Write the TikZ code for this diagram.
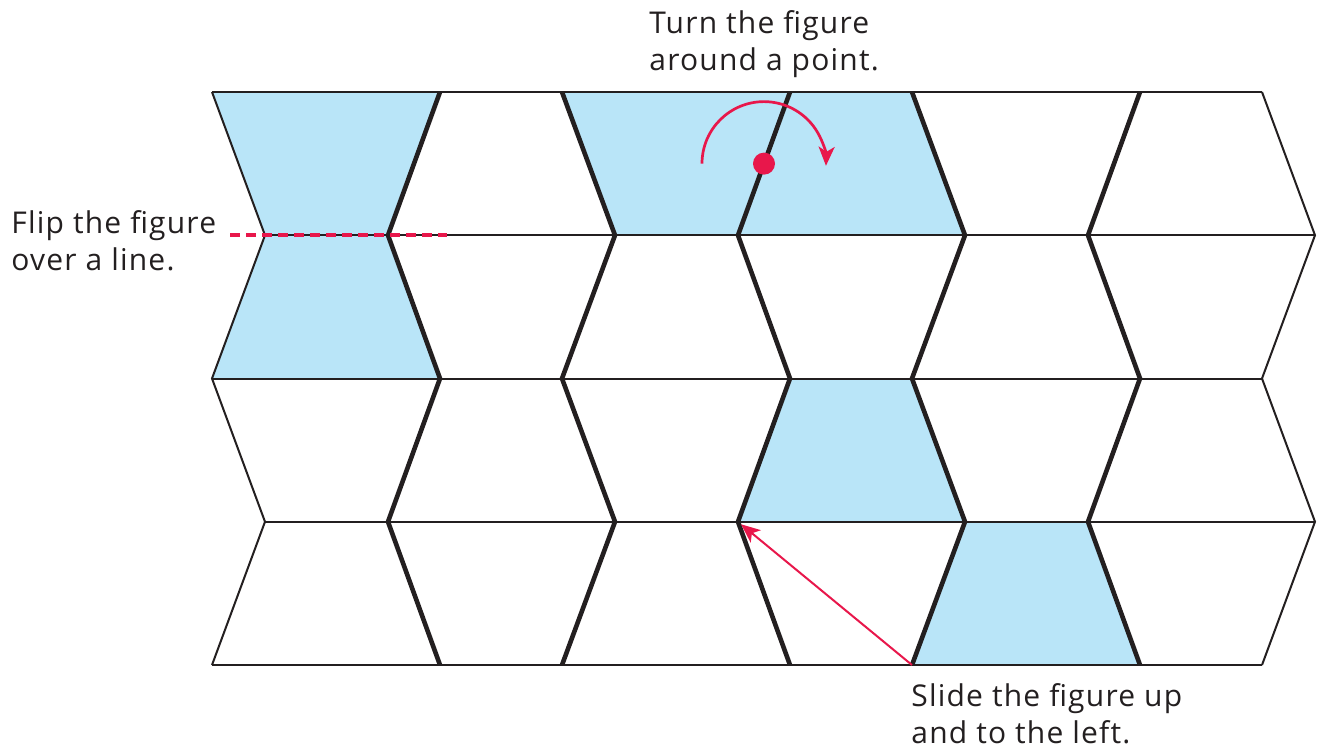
\documentclass[tikz,border=0pt]{standalone}
\usepackage{fontspec}
\setmainfont{Open Sans}[LetterSpace=4]
\usepackage{xcolor}
\usepackage{tikz}
\usetikzlibrary{arrows.meta, calc}
\definecolor{tileblue}{HTML}{B9E5F8}
\definecolor{movered}{HTML}{E8174B}
\definecolor{tileink}{HTML}{231F20}

\begin{document}
\begin{tikzpicture}[x=0.5pt, y=-0.5pt,
    thinedge/.style={draw=tileink, line width=1pt},
    thickedge/.style={draw=tileink, line width=2.3pt, line join=miter},
    movearrow/.style={draw=movered, -{Stealth[length=9.5pt, width=8pt, inset=2.5pt]}},
    caption/.style={anchor=north west, inner sep=0pt, align=left, text=tileink,
                    font=\fontsize{15}{18.5}\selectfont}]
  \useasboundingbox (0,0) rectangle (1324,750);

  % vertices of the seven zigzag columns, rows 0..4
  \foreach \k in {0,...,6}{
    \foreach \i in {0,...,4}{
      \pgfmathsetmacro{\zx}{iseven(\k) ? 212+175*\k+53*mod(\i,2) : 440+175*(\k-1)-52*mod(\i,2)}
      \pgfmathsetmacro{\zy}{92+143.25*\i}
      \coordinate (z\k-\i) at (\zx,\zy);
    }
  }

  % shaded tiles
  \fill[tileblue] (z0-0) -- (z1-0) -- (z1-1) -- (z0-1) -- cycle;
  \fill[tileblue] (z0-1) -- (z1-1) -- (z1-2) -- (z0-2) -- cycle;
  \fill[tileblue] (z2-0) -- (z4-0) -- (z4-1) -- (z2-1) -- cycle;
  \fill[tileblue] (z3-2) -- (z4-2) -- (z4-3) -- (z3-3) -- cycle;
  \fill[tileblue] (z4-3) -- (z5-3) -- (z5-4) -- (z4-4) -- cycle;

  % grid
  \foreach \i in {0,...,4}
    \draw[thinedge] (z0-\i) -- (z6-\i);
  \foreach \k/\sty in {0/thinedge, 1/thickedge, 2/thickedge, 3/thickedge,
                       4/thickedge, 5/thickedge, 6/thinedge}
    \draw[\sty] (z\k-0) -- (z\k-1) -- (z\k-2) -- (z\k-3) -- (z\k-4);

  % flip
  \coordinate (flipstart) at (230,235);
  \coordinate (flipend) at (447,235);
  \draw[movered, line width=1.6pt, dash pattern=on 5pt off 3pt] (flipstart) -- (flipend);
  \node[caption] (fliptext) at (11,210) {Flip the figure\\over a line.};

  % turn
  \node[circle, fill=movered, inner sep=0pt, minimum size=11pt] (pivot)
    at ($(z3-0)!0.5!(z3-1)$) {};
  \draw[movearrow, line width=1.35pt]
    ([shift={(180:62)}]pivot.center) arc[start angle=180, end angle=362, radius=62];
  \node[caption] (turntext) at (649,10) {Turn the figure\\around a point.};

  % slide
  \draw[movearrow, line width=1pt, shorten >=2pt] (z4-4) -- (z3-3);
  \node[caption] (slidetext) at (911,683) {Slide the figure up\\and to the left.};
\end{tikzpicture}
\end{document}
